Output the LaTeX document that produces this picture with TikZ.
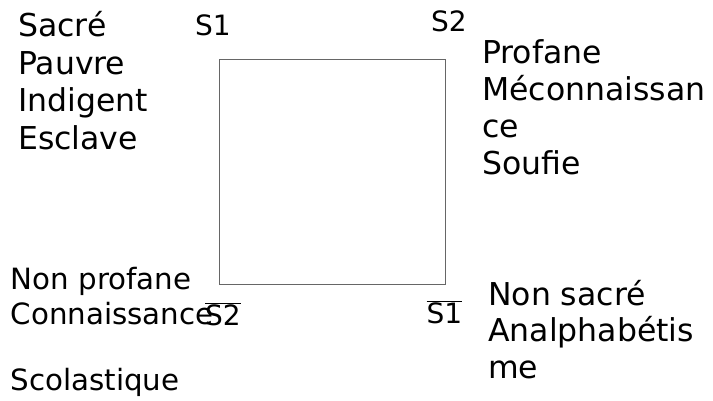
\documentclass[tikz,border=0pt]{standalone}
\usepackage{fontspec}
\setmainfont{DejaVu Sans}
\begin{document}
\begin{tikzpicture}[x=1pt,y=-1pt,
  big/.style={anchor=base west,inner sep=0pt,font=\fontsize{31.5}{37}\selectfont},
  mid/.style={anchor=base west,inner sep=0pt,font=\fontsize{29.3}{34}\selectfont},
  lab/.style={anchor=base west,inner sep=0pt,font=\fontsize{28}{33}\selectfont},
  sq/.style={draw=black!60,line width=1pt}]
\useasboundingbox (0,0) rectangle (713,400);
% square
\coordinate (tl) at (219,59.5);
\coordinate (br) at (445.5,284.5);
\draw[sq] (tl) rectangle (br);
% corner labels
\node[lab] (s1) at (195,35) {S1};
\node[lab] (s2) at (431,31.7) {S2};
\node[lab] (ns2) at (205,325) {$\overline{\mbox{S2}}$};
\node[lab] (ns1) at (426.5,323.3) {$\overline{\mbox{S1}}$};
% top-left
\node[big] (a1) at (18,36.7) {Sacré};
\node[big] (a2) at (18,74.2) {Pauvre};
\node[big] (a3) at (18,111.7) {Indigent};
\node[big] (a4) at (18,149.2) {Esclave};
% top-right
\node[big] (b1) at (482,63.3) {Profane};
\node[big] (b2) at (482,100) {Méconnaissan};
\node[big] (b3) at (482,137) {ce};
\node[big] (b4) at (482,174) {Soufie};
% bottom-left
\node[mid] (c1) at (10.5,289.3) {Non profane};
\node[mid] (c2) at (10.5,324) {Connaissance};
\node[mid] (c3) at (10.5,390) {Scolastique};
% bottom-right
\node[big] (d1) at (488,305) {Non sacré};
\node[big] (d2) at (488,341.7) {Analphabétis};
\node[big] (d3) at (488,378) {me};
\end{tikzpicture}
\end{document}
